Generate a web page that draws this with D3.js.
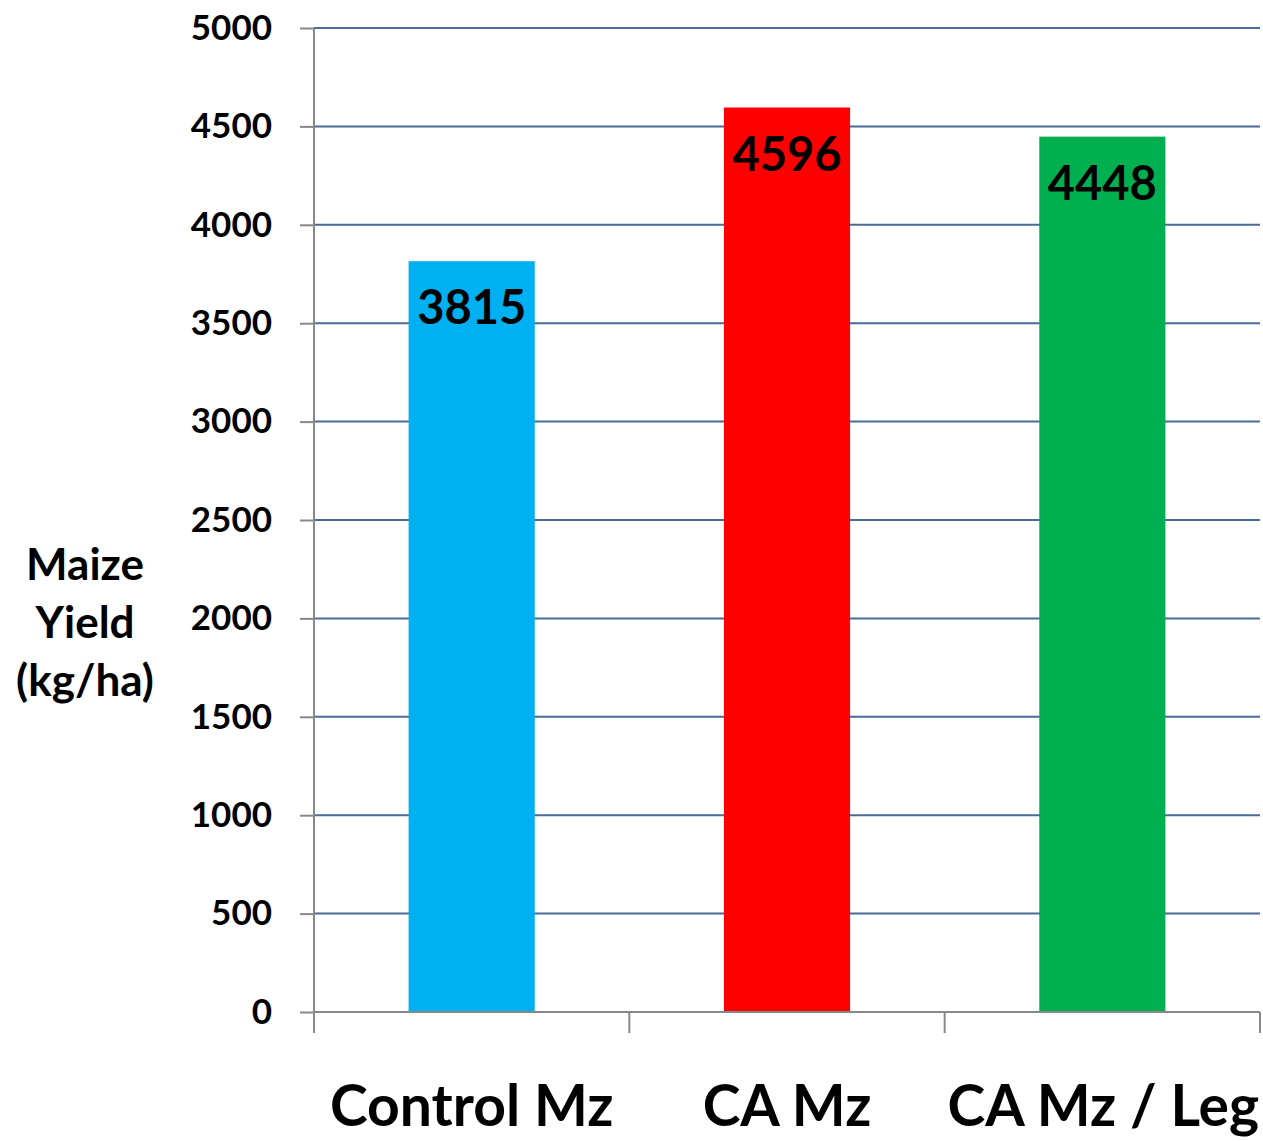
<!DOCTYPE html>
<html>
<head>
<meta charset="utf-8">
<script src="https://cdn.jsdelivr.net/npm/d3@7"></script>
<style>
  html, body { margin: 0; padding: 0; background: #fff; }
  svg { display: block; font-family: Lato, "Open Sans", sans-serif; font-weight: 700; }
</style>
</head>
<body>
<svg id="chart" width="1263" height="1141"></svg>
<script>
// Maize yield by treatment
const categories = ["Control Mz", "CA Mz", "CA Mz / Leg"];
const yields = [3815, 4596, 4448];
const barColors = ["#00b0f0", "#ff0000", "#00b050"];
const yTicks = [0, 500, 1000, 1500, 2000, 2500, 3000, 3500, 4000, 4500, 5000];
const yTitleLines = ["Maize", "Yield", "(kg/ha)"];

const svg = d3.select("#chart");
const plot = { left: 314, right: 1260, top: 28, bottom: 1012 };

const x = d3.scaleBand()
  .domain(categories)
  .range([plot.left, plot.right])
  .paddingInner(0.6)
  .paddingOuter(0.3);

const y = d3.scaleLinear()
  .domain([0, 5000])
  .range([plot.bottom, plot.top]);

// horizontal gridlines
svg.append("g")
  .selectAll("line")
  .data(yTicks.filter(d => d > 0))
  .join("line")
  .attr("x1", plot.left).attr("x2", plot.right)
  .attr("y1", d => y(d)).attr("y2", d => y(d))
  .attr("stroke", "#4a6b9a").attr("stroke-width", 2);

// bars
svg.append("g")
  .selectAll("rect")
  .data(categories)
  .join("rect")
  .attr("x", d => x(d))
  .attr("width", x.bandwidth())
  .attr("y", (d, i) => y(yields[i]))
  .attr("height", (d, i) => y(0) - y(yields[i]))
  .attr("fill", (d, i) => barColors[i]);

// value labels inside bar tops
svg.append("g")
  .selectAll("text")
  .data(categories)
  .join("text")
  .attr("x", d => x(d) + x.bandwidth() / 2)
  .attr("y", (d, i) => y(yields[i]) + 63)
  .attr("text-anchor", "middle")
  .attr("font-size", 47)
  .attr("fill", "#000")
  .text((d, i) => yields[i]);

// y axis
const yAxis = svg.append("g")
  .attr("transform", `translate(${plot.left},0)`)
  .call(d3.axisLeft(y).tickValues(yTicks).tickFormat(d3.format("d")).tickSize(14).tickPadding(28));
yAxis.select(".domain").attr("stroke", "#888").attr("stroke-width", 2).attr("d", `M0,${plot.top}V${plot.bottom}`);
yAxis.selectAll(".tick line").attr("stroke", "#888").attr("stroke-width", 2);
yAxis.selectAll(".tick text")
  .attr("font-family", "Lato, sans-serif")
  .attr("font-weight", 700)
  .attr("font-size", 35)
  .attr("fill", "#000");

// x axis with boundary tick marks between categories
const xAxisG = svg.append("g");
xAxisG.append("line")
  .attr("x1", plot.left).attr("x2", plot.right)
  .attr("y1", plot.bottom).attr("y2", plot.bottom)
  .attr("stroke", "#888").attr("stroke-width", 2);
const step = (plot.right - plot.left) / categories.length;
xAxisG.selectAll("line.bound")
  .data(d3.range(categories.length + 1))
  .join("line")
  .attr("class", "bound")
  .attr("x1", i => plot.left + i * step).attr("x2", i => plot.left + i * step)
  .attr("y1", plot.bottom).attr("y2", plot.bottom + 21)
  .attr("stroke", "#888").attr("stroke-width", 2);

// category labels
svg.append("g")
  .selectAll("text")
  .data(categories)
  .join("text")
  .attr("x", (d, i) => x(d) + x.bandwidth() / 2 + (i === 2 ? 1 : 0))
  .attr("y", 1126)
  .attr("text-anchor", "middle")
  .attr("font-size", 57)
  .attr("fill", "#000")
  .text(d => d);

// y axis title
svg.append("text")
  .attr("text-anchor", "middle")
  .attr("font-size", 44)
  .attr("fill", "#000")
  .selectAll("tspan")
  .data(yTitleLines)
  .join("tspan")
  .attr("x", 85)
  .attr("y", (d, i) => 580 + i * 58)
  .text(d => d);
</script>
</body>
</html>
